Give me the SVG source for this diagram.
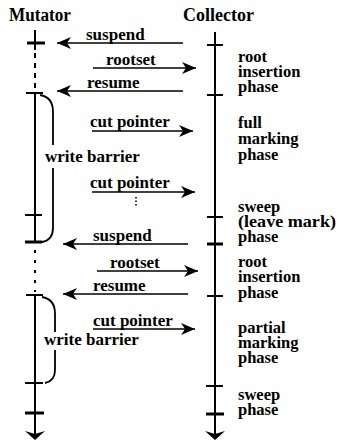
<svg xmlns="http://www.w3.org/2000/svg" width="340" height="442" viewBox="0 0 340 442">
<style>
text{font-family:"Liberation Serif","Times New Roman",serif;font-weight:bold;fill:#000;font-size:17px}
.t{font-size:18px}
.p{font-size:16.5px}
.ln{stroke:#000;stroke-width:2;fill:none}
.tk{stroke:#000;stroke-width:2}
.tk3{stroke:#000;stroke-width:3}
.ar{stroke:#000;stroke-width:1.6;fill:none}
.br{stroke:#000;stroke-width:1.8;fill:none}
</style>
<defs>
<marker id="ah" markerUnits="userSpaceOnUse" markerWidth="16" markerHeight="14" refX="14" refY="7" orient="auto">
<path d="M0,1 L14,7 L0,13 L4,7 Z" fill="#000"/>
</marker>
</defs>
<rect width="340" height="442" fill="#fff"/>
<g id="titles">
<text class="t" x="9" y="21" textLength="62" lengthAdjust="spacingAndGlyphs">Mutator</text>
<text class="t" x="183" y="21">Collector</text>
</g>
<g id="mutator">
<line class="ln" x1="35" y1="30" x2="35" y2="50"/>
<line class="ln" x1="35" y1="53" x2="35" y2="91" stroke-dasharray="5,5"/>
<line class="ln" x1="35" y1="93" x2="35" y2="243"/>
<line class="ln" x1="35" y1="250" x2="35" y2="292" stroke-dasharray="3,7"/>
<line class="ln" x1="35" y1="295" x2="35" y2="434"/>
<line class="tk3" x1="27" y1="43" x2="45" y2="43"/>
<line class="tk" x1="26" y1="93" x2="43" y2="93"/>
<line class="tk" x1="25" y1="215" x2="42" y2="215"/>
<line class="tk3" x1="25" y1="242" x2="42" y2="242"/>
<line class="tk" x1="26" y1="295" x2="43" y2="295"/>
<line class="tk" x1="25" y1="383" x2="43" y2="383"/>
<line class="tk3" x1="25" y1="413" x2="44" y2="413"/>
<path d="M25,431 L35,440 L45,431 L35,434 Z" fill="#000"/>
</g>
<g id="collector">
<line class="ln" x1="215" y1="32" x2="215" y2="434"/>
<line class="tk" x1="207" y1="45" x2="223" y2="45"/>
<line class="tk" x1="207" y1="95" x2="223" y2="95"/>
<line class="tk" x1="207" y1="217" x2="223" y2="217"/>
<line class="tk3" x1="207" y1="244" x2="223" y2="244"/>
<line class="tk" x1="207" y1="296" x2="223" y2="296"/>
<line class="tk" x1="206" y1="386" x2="223" y2="386"/>
<line class="tk3" x1="206" y1="414" x2="224" y2="414"/>
<path d="M205,431 L215,440 L225,431 L215,434 Z" fill="#000"/>
</g>
<g id="phases" class="p">
<text class="p" x="238" y="62">root</text>
<text class="p" x="238" y="77">insertion</text>
<text class="p" x="238" y="92">phase</text>
<text class="p" x="238" y="128">full</text>
<text class="p" x="238" y="144">marking</text>
<text class="p" x="238" y="160">phase</text>
<text class="p" x="238" y="212">sweep</text>
<text class="p" x="238" y="227" textLength="98" lengthAdjust="spacingAndGlyphs">(leave mark)</text>
<text class="p" x="238" y="242">phase</text>
<text class="p" x="238" y="267">root</text>
<text class="p" x="238" y="282">insertion</text>
<text class="p" x="238" y="298">phase</text>
<text class="p" x="238" y="333">partial</text>
<text class="p" x="238" y="348">marking</text>
<text class="p" x="238" y="363">phase</text>
<text class="p" x="238" y="400">sweep</text>
<text class="p" x="238" y="415">phase</text>
</g>
<g id="barriers">
<path class="br" d="M40,95 Q53,97 53,112 L53,145"/>
<path class="br" d="M53,168 L53,228 Q53,240 42,242"/>
<text x="45" y="162">write barrier</text>
<path class="br" d="M42,297 Q55,299 55,314 L55,332"/>
<path class="br" d="M55,350 L55,370 Q55,381 45,383"/>
<text x="44" y="345">write barrier</text>
</g>
<g id="connectors">
<line class="ar" x1="183" y1="43" x2="57" y2="43" marker-end="url(#ah)"/>
<line class="ar" x1="93" y1="68" x2="196" y2="68" marker-end="url(#ah)"/>
<line class="ar" x1="183" y1="91" x2="57" y2="91" marker-end="url(#ah)"/>
<line class="ar" x1="92" y1="131" x2="193" y2="131" marker-end="url(#ah)"/>
<line class="ar" x1="92" y1="192" x2="195" y2="192" marker-end="url(#ah)"/>
<line class="ar" x1="136" y1="197" x2="136" y2="207" stroke-dasharray="1.5,2"/>
<line class="ar" x1="188" y1="244" x2="63" y2="244" marker-end="url(#ah)"/>
<line class="ar" x1="97" y1="271" x2="198" y2="271" marker-end="url(#ah)"/>
<line class="ar" x1="188" y1="294" x2="63" y2="294" marker-end="url(#ah)"/>
<line class="ar" x1="93" y1="329" x2="195" y2="329" marker-end="url(#ah)"/>
</g>
<g id="labels">
<text x="86" y="40">suspend</text>
<text x="106" y="65">rootset</text>
<text x="87" y="88">resume</text>
<text x="90" y="127">cut pointer</text>
<text x="90" y="188">cut pointer</text>
<text x="93" y="241">suspend</text>
<text x="110" y="268">rootset</text>
<text x="93" y="291">resume</text>
<text x="93" y="326">cut pointer</text>
</g>
</svg>
